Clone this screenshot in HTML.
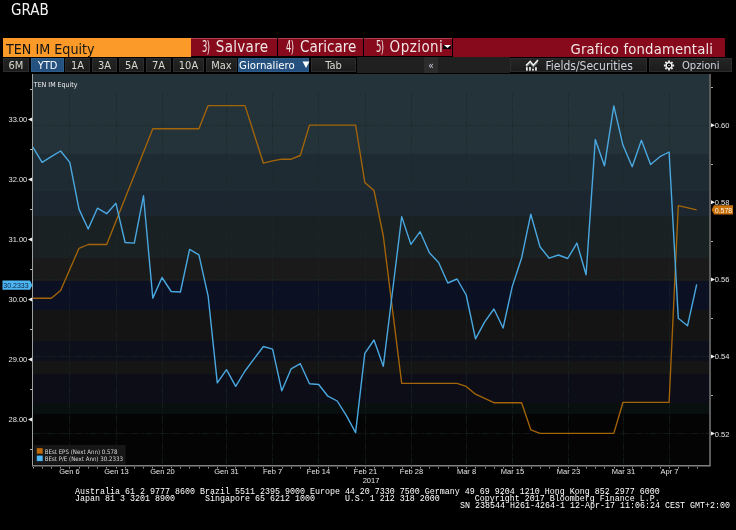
<!DOCTYPE html>
<html><head><meta charset="utf-8"><title>GRAB</title>
<style>
*{margin:0;padding:0;box-sizing:border-box}
html,body{width:736px;height:530px;background:#000;overflow:hidden}
body{position:relative;font-family:"DejaVu Sans Condensed","DejaVu Sans","Liberation Sans",sans-serif;font-stretch:condensed;color:#e8e8e8}
.a{position:absolute;white-space:pre}
#grab{left:11px;top:1px;font-size:15px;line-height:18px;color:#f4f4f4}
.r1{position:absolute;top:38px;height:18px;line-height:18px;font-size:15px;background:#860a1b;color:#f2e6e6;white-space:pre}
.r1 .w{position:absolute;top:0;line-height:18px}
.r1 .num{position:absolute;top:0;line-height:18px;letter-spacing:-1px;transform:scaleX(0.62);transform-origin:0 0}
.tab{position:absolute;top:58px;height:14px;line-height:14px;font-size:11px;background:linear-gradient(#242424,#1c1c1c);color:#d8d8d0;text-align:center;white-space:pre;border:1px solid #2c2c2c}
.tab.sel{background:linear-gradient(#25537d,#244f80);color:#fff;border-color:#2e5c88}
svg text{font-family:"Liberation Sans",sans-serif}
.ax{font-size:7.5px;fill:#e6e6e6}
.tag{font-size:7px}
.lg{font-size:6.1px;fill:#d8d8d8;font-family:"DejaVu Sans Condensed","DejaVu Sans",sans-serif;font-stretch:condensed}
.ttl{font-size:7px;fill:#f0f0f0;font-family:"DejaVu Sans Condensed","DejaVu Sans",sans-serif;font-stretch:condensed}
.ft{position:absolute;font-family:"Liberation Mono",monospace;font-size:8.333px;line-height:7px;color:#fff;white-space:pre}
</style></head><body>
<div id="grab" class="a">GRAB</div>
<div class="r1" style="left:3px;width:188px;background:#fb9a28;color:#151515;padding-left:3px;line-height:22px;height:18.5px;font-size:14.2px">TEN IM Equity</div>
<div class="r1" style="left:191px;width:86px;box-shadow:inset 0 1px 0 #a8404e"><span class="num" style="left:10.6px">3)</span><span class="w" style="left:24.8px;letter-spacing:0.3px">Salvare</span></div>
<div class="r1" style="left:278px;width:85px;box-shadow:inset 0 1px 0 #a8404e"><span class="num" style="left:7.6px">4)</span><span class="w" style="left:22px">Caricare</span></div>
<div class="r1" style="left:364px;width:88px;box-shadow:inset 0 1px 0 #a8404e"><span class="num" style="left:11.8px">5)</span><span class="w" style="left:25.6px;letter-spacing:0.45px">Opzioni</span><span style="position:absolute;left:79px;top:6.8px;width:8px;height:4px;background:#000"></span><svg style="position:absolute;left:79.5px;top:7.3px" width="7" height="3"><polygon points="0,0 7,0 3.5,3" fill="#fff"/></svg></div>
<div class="r1" style="left:453px;width:272px;font-size:14.7px;letter-spacing:0.17px;text-align:right;padding-right:11.9px;line-height:21.5px;height:18.6px">Grafico fondamentali</div>

<div class="tab" style="left:3px;width:26px">6M</div>
<div class="tab sel" style="left:31px;width:33px">YTD</div>
<div class="tab" style="left:65px;width:25px">1A</div>
<div class="tab" style="left:92px;width:25px">3A</div>
<div class="tab" style="left:119px;width:25px">5A</div>
<div class="tab" style="left:146px;width:25px">7A</div>
<div class="tab" style="left:173px;width:31px">10A</div>
<div class="tab" style="left:206px;width:31px">Max</div>
<div class="tab sel" style="left:238px;width:71px;text-align:left;padding-left:0px;font-size:11.3px">Giornaliero<svg style="position:absolute;left:62.5px;top:2px" width="8" height="8"><polygon points="0.5,0.5 7.5,0.5 4,7" fill="#fff"/></svg></div>
<div class="tab" style="left:311px;width:45px">Tab</div>
<div class="tab" style="left:357px;top:57px;height:16px;width:67px;background:#202020;border:none"></div>
<div class="tab" style="left:424px;top:57px;height:16px;line-height:17px;width:14px;background:#2c2c2c;border:none;color:#d4d4e8;font-size:10px">«</div>
<div class="tab" style="left:438px;top:57px;height:16px;width:72px;background:#202020;border:none"></div>
<div class="tab" style="left:510px;width:137px;text-align:left;padding-left:34.5px;font-size:12px;color:#d0d4dc">Fields/Securities<svg style="position:absolute;left:14px;top:0px" width="14" height="13" viewBox="0 0 14 13"><polygon points="1,6.5 5.2,2.3 8.3,6.2 13,1.1 13,3.8 8.3,8.9 5.2,5 1,9.2" fill="#6a7272"/><polyline points="1,6.5 5.2,2.3 8.3,6.2 13,1.1" fill="none" stroke="#f4f4f4" stroke-width="1.5"/><rect x="1" y="8.2" width="1.7" height="3.5" fill="#f0f0f0"/><rect x="4.1" y="8" width="1.7" height="3.7" fill="#f0f0f0"/><rect x="7.1" y="9.6" width="1.7" height="2.1" fill="#f0f0f0"/><rect x="10.1" y="8.2" width="1.7" height="3.5" fill="#f0f0f0"/></svg></div>
<div class="tab" style="left:649px;width:83px;text-align:left;padding-left:32px;font-size:11.1px;color:#d0d4dc">Opzioni<svg style="position:absolute;left:13px;top:1px" width="12" height="12" viewBox="0 0 12 12"><circle cx="6" cy="5.5" r="2.7" fill="none" stroke="#f0f0f0" stroke-width="1.5"/><g stroke="#e8e8e8" stroke-width="1.9" stroke-dasharray="2 6.2 2"><line x1="6" y1="0.4" x2="6" y2="10.6"/><line x1="0.9" y1="5.5" x2="11.1" y2="5.5"/><line x1="2.4" y1="1.9" x2="9.6" y2="9.1" stroke-dasharray="1.6 6.9 1.6"/><line x1="2.4" y1="9.1" x2="9.6" y2="1.9" stroke-dasharray="1.6 6.9 1.6"/></g><circle cx="6" cy="5.5" r="1.9" fill="#000"/><rect x="5.2" y="5.1" width="1.6" height="0.9" fill="#ddd"/></svg></div>

<svg class="a" style="left:0;top:0" width="736" height="530" viewBox="0 0 736 530">
<rect x="33" y="74" width="676" height="80.0" fill="#24323a"/>
<rect x="33" y="154" width="676" height="37.0" fill="#1f2b33"/>
<rect x="33" y="191" width="676" height="25.0" fill="#1c2630"/>
<rect x="33" y="216" width="676" height="42.0" fill="#1a2123"/>
<rect x="33" y="258" width="676" height="23.0" fill="#1a1a1a"/>
<rect x="33" y="281" width="676" height="29.0" fill="#0b1122"/>
<rect x="33" y="310" width="676" height="31.0" fill="#141414"/>
<rect x="33" y="341" width="676" height="20.0" fill="#0d0f1a"/>
<rect x="33" y="361" width="676" height="13.0" fill="#151515"/>
<rect x="33" y="374" width="676" height="29.0" fill="#0c0d17"/>
<rect x="33" y="403" width="676" height="11.0" fill="#090e0e"/>
<rect x="33" y="414" width="676" height="52.0" fill="#040404"/>
<line x1="33" y1="125.5" x2="709" y2="125.5" stroke="#1b2827" stroke-width="1" stroke-dasharray="7 1 1 1 1 1 1 1" stroke-opacity="0.6"/>
<line x1="33" y1="202.5" x2="709" y2="202.5" stroke="#1b2827" stroke-width="1" stroke-dasharray="7 1 1 1 1 1 1 1" stroke-opacity="0.6"/>
<line x1="33" y1="279.5" x2="709" y2="279.5" stroke="#1b2827" stroke-width="1" stroke-dasharray="7 1 1 1 1 1 1 1" stroke-opacity="0.6"/>
<line x1="33" y1="356.5" x2="709" y2="356.5" stroke="#1b2827" stroke-width="1" stroke-dasharray="7 1 1 1 1 1 1 1" stroke-opacity="0.6"/>
<line x1="33" y1="433.5" x2="709" y2="433.5" stroke="#1b2827" stroke-width="1" stroke-dasharray="7 1 1 1 1 1 1 1" stroke-opacity="0.6"/>
<line x1="69.5" y1="93" x2="69.5" y2="466" stroke="#1b2827" stroke-width="1" stroke-dasharray="7 1 1 1 1 1 1 1" stroke-opacity="0.6"/>
<line x1="116.5" y1="93" x2="116.5" y2="466" stroke="#1b2827" stroke-width="1" stroke-dasharray="7 1 1 1 1 1 1 1" stroke-opacity="0.6"/>
<line x1="162.5" y1="93" x2="162.5" y2="466" stroke="#1b2827" stroke-width="1" stroke-dasharray="7 1 1 1 1 1 1 1" stroke-opacity="0.6"/>
<line x1="226.5" y1="93" x2="226.5" y2="466" stroke="#1b2827" stroke-width="1" stroke-dasharray="7 1 1 1 1 1 1 1" stroke-opacity="0.6"/>
<line x1="272.5" y1="93" x2="272.5" y2="466" stroke="#1b2827" stroke-width="1" stroke-dasharray="7 1 1 1 1 1 1 1" stroke-opacity="0.6"/>
<line x1="318.5" y1="93" x2="318.5" y2="466" stroke="#1b2827" stroke-width="1" stroke-dasharray="7 1 1 1 1 1 1 1" stroke-opacity="0.6"/>
<line x1="365.5" y1="93" x2="365.5" y2="466" stroke="#1b2827" stroke-width="1" stroke-dasharray="7 1 1 1 1 1 1 1" stroke-opacity="0.6"/>
<line x1="411.5" y1="93" x2="411.5" y2="466" stroke="#1b2827" stroke-width="1" stroke-dasharray="7 1 1 1 1 1 1 1" stroke-opacity="0.6"/>
<line x1="466.5" y1="93" x2="466.5" y2="466" stroke="#1b2827" stroke-width="1" stroke-dasharray="7 1 1 1 1 1 1 1" stroke-opacity="0.6"/>
<line x1="512.5" y1="93" x2="512.5" y2="466" stroke="#1b2827" stroke-width="1" stroke-dasharray="7 1 1 1 1 1 1 1" stroke-opacity="0.6"/>
<line x1="568.5" y1="93" x2="568.5" y2="466" stroke="#1b2827" stroke-width="1" stroke-dasharray="7 1 1 1 1 1 1 1" stroke-opacity="0.6"/>
<line x1="623.5" y1="93" x2="623.5" y2="466" stroke="#1b2827" stroke-width="1" stroke-dasharray="7 1 1 1 1 1 1 1" stroke-opacity="0.6"/>
<line x1="669.5" y1="93" x2="669.5" y2="466" stroke="#1b2827" stroke-width="1" stroke-dasharray="7 1 1 1 1 1 1 1" stroke-opacity="0.6"/>
<polyline points="32.9,298.2 42.1,298.2 51.3,298.2 60.6,290.5 79.0,248.3 88.2,244.5 97.4,244.5 106.7,244.5 152.8,128.7 198.9,128.7 208.1,105.6 245.0,105.6 263.4,163.2 272.6,160.8 281.8,159.2 291.1,159.2 300.3,155.5 309.5,125.1 355.6,125.1 364.8,182.4 374.0,190.5 383.3,236.0 401.7,383.3 457.0,383.3 466.2,386.4 475.5,394.2 493.9,402.7 521.6,402.7 530.8,429.8 540.0,433.4 613.8,433.4 623.0,402.3 669.1,402.3 678.3,205.6 696.7,209.8" fill="none" stroke="#a36508" stroke-width="1.35" stroke-linejoin="round"/>
<polyline points="32.9,147.2 42.1,162.3 51.3,156.7 60.6,151.0 69.8,162.4 79.0,209.1 88.2,229.0 97.4,208.2 106.7,213.7 115.9,203.3 125.1,242.5 134.3,243.1 143.5,195.8 152.8,298.1 162.0,277.5 171.2,291.5 180.4,292.0 189.6,249.4 198.9,254.8 208.1,295.8 217.3,382.9 226.5,369.7 235.7,386.3 245.0,371.0 254.2,358.7 263.4,346.5 272.6,349.1 281.8,390.8 291.1,368.9 300.3,363.7 309.5,383.8 318.7,384.5 327.9,396.2 337.2,401.0 346.4,415.7 355.6,432.7 364.8,353.4 374.0,340.0 383.3,366.3 392.5,291.5 401.7,216.6 410.9,244.4 420.1,231.7 429.4,252.8 438.6,262.5 447.8,283.0 457.0,279.0 466.2,295.0 475.5,338.8 484.7,321.8 493.9,309.0 503.1,328.0 512.3,286.4 521.6,258.0 530.8,214.2 540.0,246.7 549.2,258.2 558.4,255.0 567.7,258.5 576.9,243.1 586.1,274.7 595.3,139.4 604.5,165.9 613.8,105.9 623.0,145.3 632.2,166.7 641.4,140.3 650.6,164.5 659.9,156.7 669.1,152.0 678.3,318.3 687.5,325.8 696.7,284.3" fill="none" stroke="#4aa8e0" stroke-width="1.4" stroke-linejoin="round"/>
<line x1="32.5" y1="74" x2="32.5" y2="466.5" stroke="#9aa0a0" stroke-width="1"/>
<line x1="710" y1="74" x2="710" y2="466.5" stroke="#7a7a7a" stroke-width="1.5"/>
<line x1="32" y1="465.75" x2="710" y2="465.75" stroke="#808080" stroke-width="1.5"/>
<line x1="33.5" y1="467" x2="33.5" y2="468.5" stroke="#9a9a9a" stroke-width="1"/>
<line x1="42.5" y1="467" x2="42.5" y2="468.5" stroke="#9a9a9a" stroke-width="1"/>
<line x1="51.5" y1="467" x2="51.5" y2="468.5" stroke="#9a9a9a" stroke-width="1"/>
<line x1="60.5" y1="467" x2="60.5" y2="468.5" stroke="#9a9a9a" stroke-width="1"/>
<line x1="69.5" y1="467" x2="69.5" y2="468.5" stroke="#9a9a9a" stroke-width="1"/>
<line x1="79.5" y1="467" x2="79.5" y2="468.5" stroke="#9a9a9a" stroke-width="1"/>
<line x1="88.5" y1="467" x2="88.5" y2="468.5" stroke="#9a9a9a" stroke-width="1"/>
<line x1="97.5" y1="467" x2="97.5" y2="468.5" stroke="#9a9a9a" stroke-width="1"/>
<line x1="106.5" y1="467" x2="106.5" y2="468.5" stroke="#9a9a9a" stroke-width="1"/>
<line x1="116.5" y1="467" x2="116.5" y2="468.5" stroke="#9a9a9a" stroke-width="1"/>
<line x1="125.5" y1="467" x2="125.5" y2="468.5" stroke="#9a9a9a" stroke-width="1"/>
<line x1="134.5" y1="467" x2="134.5" y2="468.5" stroke="#9a9a9a" stroke-width="1"/>
<line x1="143.5" y1="467" x2="143.5" y2="468.5" stroke="#9a9a9a" stroke-width="1"/>
<line x1="152.5" y1="467" x2="152.5" y2="468.5" stroke="#9a9a9a" stroke-width="1"/>
<line x1="162.5" y1="467" x2="162.5" y2="468.5" stroke="#9a9a9a" stroke-width="1"/>
<line x1="171.5" y1="467" x2="171.5" y2="468.5" stroke="#9a9a9a" stroke-width="1"/>
<line x1="180.5" y1="467" x2="180.5" y2="468.5" stroke="#9a9a9a" stroke-width="1"/>
<line x1="189.5" y1="467" x2="189.5" y2="468.5" stroke="#9a9a9a" stroke-width="1"/>
<line x1="199.5" y1="467" x2="199.5" y2="468.5" stroke="#9a9a9a" stroke-width="1"/>
<line x1="208.5" y1="467" x2="208.5" y2="468.5" stroke="#9a9a9a" stroke-width="1"/>
<line x1="217.5" y1="467" x2="217.5" y2="468.5" stroke="#9a9a9a" stroke-width="1"/>
<line x1="226.5" y1="467" x2="226.5" y2="468.5" stroke="#9a9a9a" stroke-width="1"/>
<line x1="235.5" y1="467" x2="235.5" y2="468.5" stroke="#9a9a9a" stroke-width="1"/>
<line x1="245.5" y1="467" x2="245.5" y2="468.5" stroke="#9a9a9a" stroke-width="1"/>
<line x1="254.5" y1="467" x2="254.5" y2="468.5" stroke="#9a9a9a" stroke-width="1"/>
<line x1="263.5" y1="467" x2="263.5" y2="468.5" stroke="#9a9a9a" stroke-width="1"/>
<line x1="272.5" y1="467" x2="272.5" y2="468.5" stroke="#9a9a9a" stroke-width="1"/>
<line x1="282.5" y1="467" x2="282.5" y2="468.5" stroke="#9a9a9a" stroke-width="1"/>
<line x1="291.5" y1="467" x2="291.5" y2="468.5" stroke="#9a9a9a" stroke-width="1"/>
<line x1="300.5" y1="467" x2="300.5" y2="468.5" stroke="#9a9a9a" stroke-width="1"/>
<line x1="309.5" y1="467" x2="309.5" y2="468.5" stroke="#9a9a9a" stroke-width="1"/>
<line x1="318.5" y1="467" x2="318.5" y2="468.5" stroke="#9a9a9a" stroke-width="1"/>
<line x1="328.5" y1="467" x2="328.5" y2="468.5" stroke="#9a9a9a" stroke-width="1"/>
<line x1="337.5" y1="467" x2="337.5" y2="468.5" stroke="#9a9a9a" stroke-width="1"/>
<line x1="346.5" y1="467" x2="346.5" y2="468.5" stroke="#9a9a9a" stroke-width="1"/>
<line x1="355.5" y1="467" x2="355.5" y2="468.5" stroke="#9a9a9a" stroke-width="1"/>
<line x1="365.5" y1="467" x2="365.5" y2="468.5" stroke="#9a9a9a" stroke-width="1"/>
<line x1="374.5" y1="467" x2="374.5" y2="468.5" stroke="#9a9a9a" stroke-width="1"/>
<line x1="383.5" y1="467" x2="383.5" y2="468.5" stroke="#9a9a9a" stroke-width="1"/>
<line x1="392.5" y1="467" x2="392.5" y2="468.5" stroke="#9a9a9a" stroke-width="1"/>
<line x1="402.5" y1="467" x2="402.5" y2="468.5" stroke="#9a9a9a" stroke-width="1"/>
<line x1="411.5" y1="467" x2="411.5" y2="468.5" stroke="#9a9a9a" stroke-width="1"/>
<line x1="420.5" y1="467" x2="420.5" y2="468.5" stroke="#9a9a9a" stroke-width="1"/>
<line x1="429.5" y1="467" x2="429.5" y2="468.5" stroke="#9a9a9a" stroke-width="1"/>
<line x1="438.5" y1="467" x2="438.5" y2="468.5" stroke="#9a9a9a" stroke-width="1"/>
<line x1="448.5" y1="467" x2="448.5" y2="468.5" stroke="#9a9a9a" stroke-width="1"/>
<line x1="457.5" y1="467" x2="457.5" y2="468.5" stroke="#9a9a9a" stroke-width="1"/>
<line x1="466.5" y1="467" x2="466.5" y2="468.5" stroke="#9a9a9a" stroke-width="1"/>
<line x1="475.5" y1="467" x2="475.5" y2="468.5" stroke="#9a9a9a" stroke-width="1"/>
<line x1="485.5" y1="467" x2="485.5" y2="468.5" stroke="#9a9a9a" stroke-width="1"/>
<line x1="494.5" y1="467" x2="494.5" y2="468.5" stroke="#9a9a9a" stroke-width="1"/>
<line x1="503.5" y1="467" x2="503.5" y2="468.5" stroke="#9a9a9a" stroke-width="1"/>
<line x1="512.5" y1="467" x2="512.5" y2="468.5" stroke="#9a9a9a" stroke-width="1"/>
<line x1="521.5" y1="467" x2="521.5" y2="468.5" stroke="#9a9a9a" stroke-width="1"/>
<line x1="531.5" y1="467" x2="531.5" y2="468.5" stroke="#9a9a9a" stroke-width="1"/>
<line x1="540.5" y1="467" x2="540.5" y2="468.5" stroke="#9a9a9a" stroke-width="1"/>
<line x1="549.5" y1="467" x2="549.5" y2="468.5" stroke="#9a9a9a" stroke-width="1"/>
<line x1="558.5" y1="467" x2="558.5" y2="468.5" stroke="#9a9a9a" stroke-width="1"/>
<line x1="568.5" y1="467" x2="568.5" y2="468.5" stroke="#9a9a9a" stroke-width="1"/>
<line x1="577.5" y1="467" x2="577.5" y2="468.5" stroke="#9a9a9a" stroke-width="1"/>
<line x1="586.5" y1="467" x2="586.5" y2="468.5" stroke="#9a9a9a" stroke-width="1"/>
<line x1="595.5" y1="467" x2="595.5" y2="468.5" stroke="#9a9a9a" stroke-width="1"/>
<line x1="604.5" y1="467" x2="604.5" y2="468.5" stroke="#9a9a9a" stroke-width="1"/>
<line x1="614.5" y1="467" x2="614.5" y2="468.5" stroke="#9a9a9a" stroke-width="1"/>
<line x1="623.5" y1="467" x2="623.5" y2="468.5" stroke="#9a9a9a" stroke-width="1"/>
<line x1="632.5" y1="467" x2="632.5" y2="468.5" stroke="#9a9a9a" stroke-width="1"/>
<line x1="641.5" y1="467" x2="641.5" y2="468.5" stroke="#9a9a9a" stroke-width="1"/>
<line x1="651.5" y1="467" x2="651.5" y2="468.5" stroke="#9a9a9a" stroke-width="1"/>
<line x1="660.5" y1="467" x2="660.5" y2="468.5" stroke="#9a9a9a" stroke-width="1"/>
<line x1="669.5" y1="467" x2="669.5" y2="468.5" stroke="#9a9a9a" stroke-width="1"/>
<line x1="678.5" y1="467" x2="678.5" y2="468.5" stroke="#9a9a9a" stroke-width="1"/>
<line x1="688.5" y1="467" x2="688.5" y2="468.5" stroke="#9a9a9a" stroke-width="1"/>
<line x1="697.5" y1="467" x2="697.5" y2="468.5" stroke="#9a9a9a" stroke-width="1"/>
<text x="69.5" y="474" text-anchor="middle" class="ax">Gen 6</text>
<text x="116.5" y="474" text-anchor="middle" class="ax">Gen 13</text>
<text x="162.5" y="474" text-anchor="middle" class="ax">Gen 20</text>
<text x="226.5" y="474" text-anchor="middle" class="ax">Gen 31</text>
<text x="272.5" y="474" text-anchor="middle" class="ax">Feb 7</text>
<text x="318.5" y="474" text-anchor="middle" class="ax">Feb 14</text>
<text x="365.5" y="474" text-anchor="middle" class="ax">Feb 21</text>
<text x="411.5" y="474" text-anchor="middle" class="ax">Feb 28</text>
<text x="466.5" y="474" text-anchor="middle" class="ax">Mar 8</text>
<text x="512.5" y="474" text-anchor="middle" class="ax">Mar 15</text>
<text x="568.5" y="474" text-anchor="middle" class="ax">Mar 23</text>
<text x="623.5" y="474" text-anchor="middle" class="ax">Mar 31</text>
<text x="669.5" y="474" text-anchor="middle" class="ax">Apr 7</text>
<text x="371" y="482.6" text-anchor="middle" class="ax">2017</text>
<text x="27.3" y="122.1" text-anchor="end" class="ax">33.00</text>
<polygon points="28,119.5 32,117.5 32,121.5" fill="#f0f0f0"/>
<text x="27.3" y="182.1" text-anchor="end" class="ax">32.00</text>
<polygon points="28,179.5 32,177.5 32,181.5" fill="#f0f0f0"/>
<text x="27.3" y="242.1" text-anchor="end" class="ax">31.00</text>
<polygon points="28,239.5 32,237.5 32,241.5" fill="#f0f0f0"/>
<text x="27.3" y="302.1" text-anchor="end" class="ax">30.00</text>
<polygon points="28,299.5 32,297.5 32,301.5" fill="#f0f0f0"/>
<text x="27.3" y="362.1" text-anchor="end" class="ax">29.00</text>
<polygon points="28,359.5 32,357.5 32,361.5" fill="#f0f0f0"/>
<text x="27.3" y="422.1" text-anchor="end" class="ax">28.00</text>
<polygon points="28,419.5 32,417.5 32,421.5" fill="#f0f0f0"/>
<line x1="30" y1="89.5" x2="32" y2="89.5" stroke="#b0b0b0" stroke-width="1"/>
<line x1="30" y1="149.5" x2="32" y2="149.5" stroke="#b0b0b0" stroke-width="1"/>
<line x1="30" y1="209.5" x2="32" y2="209.5" stroke="#b0b0b0" stroke-width="1"/>
<line x1="30" y1="269.5" x2="32" y2="269.5" stroke="#b0b0b0" stroke-width="1"/>
<line x1="30" y1="329.5" x2="32" y2="329.5" stroke="#b0b0b0" stroke-width="1"/>
<line x1="30" y1="389.5" x2="32" y2="389.5" stroke="#b0b0b0" stroke-width="1"/>
<line x1="30" y1="449.5" x2="32" y2="449.5" stroke="#b0b0b0" stroke-width="1"/>
<polygon points="715,125.2 711,123.2 711,127.2" fill="#f0f0f0"/>
<text x="714.8" y="128.2" class="ax">0.60</text>
<polygon points="715,202.3 711,200.3 711,204.3" fill="#f0f0f0"/>
<text x="714.8" y="205.3" class="ax">0.58</text>
<polygon points="715,279.4 711,277.4 711,281.4" fill="#f0f0f0"/>
<text x="714.8" y="282.4" class="ax">0.56</text>
<polygon points="715,356.4 711,354.4 711,358.4" fill="#f0f0f0"/>
<text x="714.8" y="359.4" class="ax">0.54</text>
<polygon points="715,433.5 711,431.5 711,435.5" fill="#f0f0f0"/>
<text x="714.8" y="436.5" class="ax">0.52</text>
<line x1="711" y1="87.5" x2="713" y2="87.5" stroke="#b0b0b0" stroke-width="1"/>
<line x1="711" y1="164.5" x2="713" y2="164.5" stroke="#b0b0b0" stroke-width="1"/>
<line x1="711" y1="241.5" x2="713" y2="241.5" stroke="#b0b0b0" stroke-width="1"/>
<line x1="711" y1="318.5" x2="713" y2="318.5" stroke="#b0b0b0" stroke-width="1"/>
<line x1="711" y1="395.5" x2="713" y2="395.5" stroke="#b0b0b0" stroke-width="1"/>
<polygon points="2.5,280.5 30,280.5 32.3,285.2 30,289.8 2.5,289.8" fill="#4cb6f2"/>
<text x="16" y="288" text-anchor="middle" class="tag" fill="#102040">30.2333</text>
<polygon points="711.6,209.8 714,205.2 733,205.2 733,214.4 714,214.4" fill="#c8700c"/>
<text x="723.5" y="212.6" text-anchor="middle" class="tag" fill="#fff4e0">0.578</text>
<rect x="34" y="445" width="91.6" height="19.5" fill="#171717"/>
<rect x="36.8" y="448.2" width="5.9" height="5.5" fill="#c06a0a"/>
<rect x="36.8" y="455.6" width="5.9" height="5.5" fill="#4db8f2"/>
<text x="44.7" y="453.6" class="lg">BEst EPS (Next Ann) 0.578</text>
<text x="44.7" y="461" class="lg">BEst P/E (Next Ann) 30.2333</text>
<text x="33.8" y="87.2" class="ttl">TEN IM Equity</text>
</svg>

<div class="ft" style="left:75px;top:489px">Australia 61 2 9777 8600 Brazil 5511 2395 9000 Europe 44 20 7330 7500 Germany 49 69 9204 1210 Hong Kong 852 2977 6000</div>
<div class="ft" style="left:75px;top:496px">Japan 81 3 3201 8900      Singapore 65 6212 1000      U.S. 1 212 318 2000       Copyright 2017 Bloomberg Finance L.P.</div>
<div class="ft" style="left:460px;top:503px">SN 238544 H261-4264-1 12-Apr-17 11:06:24 CEST GMT+2:00</div>
</body></html>
